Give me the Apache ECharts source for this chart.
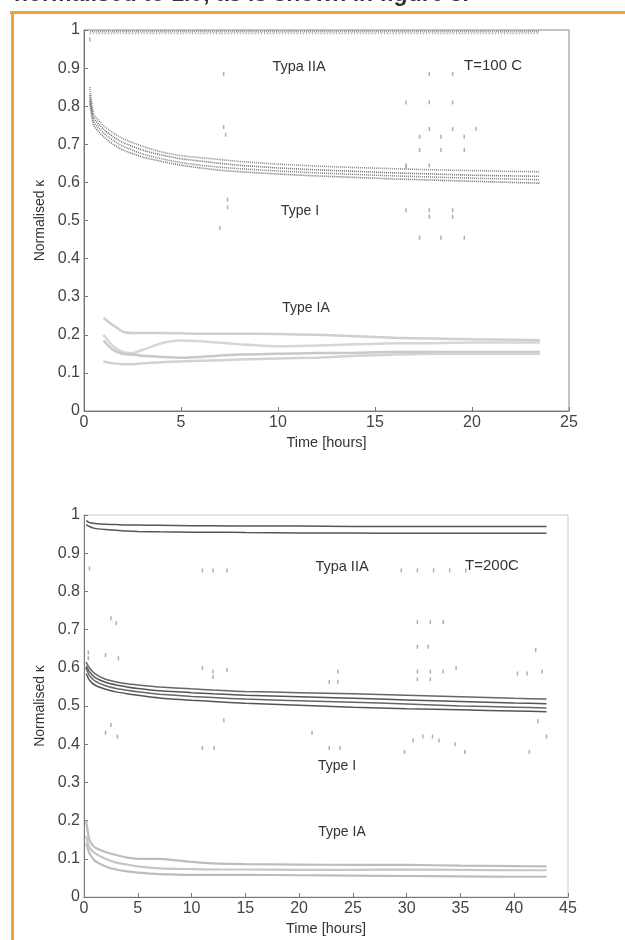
<!DOCTYPE html>
<html>
<head>
<meta charset="utf-8">
<script src="https://cdn.jsdelivr.net/npm/echarts@6/dist/echarts.min.js"></script>
<style>
html,body{margin:0;padding:0;background:#fff;}
#c{width:625px;height:940px;}
</style>
</head>
<body>
<div id="c"></div>
<script>
// ---------- Top panel: T = 100 C ----------
const tTop = [0.3, 0.5, 1, 1.5, 2, 3, 4, 5, 6, 7, 8, 10, 12, 14, 16, 18, 20, 22, 23.5];
const topIIA_1 = [0.996, 0.996, 0.996, 0.996, 0.996, 0.996, 0.996, 0.996, 0.996, 0.996, 0.996, 0.996, 0.996, 0.996, 0.996, 0.996, 0.996, 0.996, 0.996];
const topIIA_2 = [0.99, 0.991, 0.991, 0.991, 0.991, 0.991, 0.991, 0.991, 0.991, 0.991, 0.991, 0.991, 0.991, 0.991, 0.991, 0.991, 0.991, 0.991, 0.991];
const topI_1 = [0.85, 0.78, 0.75, 0.73, 0.715, 0.695, 0.68, 0.67, 0.665, 0.66, 0.655, 0.648, 0.643, 0.639, 0.636, 0.633, 0.631, 0.629, 0.628];
const topI_2 = [0.83, 0.77, 0.74, 0.72, 0.705, 0.685, 0.672, 0.662, 0.656, 0.65, 0.645, 0.638, 0.633, 0.629, 0.625, 0.622, 0.619, 0.617, 0.616];
const topI_3 = [0.82, 0.76, 0.73, 0.71, 0.695, 0.675, 0.662, 0.652, 0.645, 0.64, 0.636, 0.63, 0.625, 0.621, 0.617, 0.614, 0.611, 0.609, 0.607];
const topI_4 = [0.81, 0.75, 0.72, 0.70, 0.685, 0.667, 0.655, 0.645, 0.638, 0.632, 0.628, 0.622, 0.617, 0.613, 0.609, 0.606, 0.603, 0.6, 0.598];
const tTopIA = [1, 1.5, 2, 2.5, 3, 4, 5, 6, 8, 10, 12, 14, 16, 18, 20, 22, 23.5];
const topIA_1 = [0.245, 0.225, 0.208, 0.205, 0.205, 0.205, 0.204, 0.203, 0.203, 0.202, 0.2, 0.196, 0.192, 0.19, 0.188, 0.187, 0.186];
const topIA_2 = [0.2, 0.17, 0.155, 0.152, 0.16, 0.178, 0.185, 0.183, 0.175, 0.17, 0.172, 0.175, 0.178, 0.178, 0.18, 0.18, 0.18];
const topIA_3 = [0.185, 0.16, 0.15, 0.148, 0.145, 0.142, 0.14, 0.142, 0.148, 0.15, 0.152, 0.153, 0.155, 0.155, 0.155, 0.155, 0.155];
const topIA_4 = [0.13, 0.125, 0.123, 0.123, 0.125, 0.128, 0.13, 0.132, 0.135, 0.138, 0.14, 0.145, 0.148, 0.15, 0.15, 0.15, 0.15];
const topOutT = [0.3, 7.2, 7.2, 7.3, 7.4, 7.4, 7.0, 16.6, 17.8, 19.0, 16.6, 17.8, 19.0, 17.8, 19.0, 20.2, 17.3, 18.4, 19.6, 17.3, 18.4, 19.6, 16.6, 17.8, 16.6, 17.8, 19.0, 17.8, 19.0, 17.3, 18.4, 19.6];
const topOutV = [0.975, 0.885, 0.745, 0.725, 0.555, 0.535, 0.48, 0.64, 0.885, 0.885, 0.81, 0.81, 0.81, 0.74, 0.74, 0.74, 0.72, 0.72, 0.72, 0.685, 0.685, 0.685, 0.645, 0.645, 0.527, 0.527, 0.527, 0.51, 0.51, 0.455, 0.455, 0.455];

// ---------- Bottom panel: T = 200C ----------
const tBot = [0.2, 0.5, 1, 2, 3, 4, 5, 7, 10, 12, 15, 20, 25, 30, 35, 40, 43];
const botIIA_1 = [0.985, 0.98, 0.978, 0.976, 0.975, 0.974, 0.974, 0.973, 0.972, 0.972, 0.971, 0.971, 0.97, 0.97, 0.97, 0.97, 0.97];
const botIIA_2 = [0.975, 0.97, 0.965, 0.962, 0.96, 0.958, 0.957, 0.956, 0.955, 0.955, 0.954, 0.953, 0.953, 0.952, 0.952, 0.952, 0.952];
const botI_1 = [0.615, 0.6, 0.585, 0.57, 0.563, 0.558, 0.555, 0.55, 0.545, 0.542, 0.538, 0.535, 0.532, 0.528, 0.524, 0.52, 0.518];
const botI_2 = [0.605, 0.59, 0.575, 0.562, 0.555, 0.55, 0.546, 0.54, 0.535, 0.532, 0.528, 0.524, 0.52, 0.516, 0.512, 0.508, 0.506];
const botI_3 = [0.598, 0.58, 0.566, 0.553, 0.546, 0.541, 0.537, 0.531, 0.525, 0.522, 0.518, 0.514, 0.51, 0.505, 0.5, 0.497, 0.495];
const botI_4 = [0.585, 0.568, 0.555, 0.544, 0.537, 0.532, 0.528, 0.521, 0.515, 0.512, 0.507, 0.502, 0.497, 0.493, 0.49, 0.487, 0.485];
const botIA_1 = [0.2, 0.15, 0.13, 0.118, 0.11, 0.103, 0.1, 0.1, 0.092, 0.088, 0.086, 0.085, 0.084, 0.084, 0.082, 0.081, 0.08];
const botIA_2 = [0.16, 0.13, 0.115, 0.1, 0.09, 0.085, 0.08, 0.075, 0.073, 0.072, 0.072, 0.071, 0.071, 0.072, 0.071, 0.07, 0.07];
const botIA_3 = [0.14, 0.115, 0.095, 0.08, 0.072, 0.067, 0.064, 0.06, 0.058, 0.058, 0.058, 0.057, 0.056, 0.055, 0.054, 0.053, 0.053];
const botOutT = [0.5, 2.5, 3.0, 0.4, 0.4, 2.0, 3.2, 11, 12, 13.3, 11, 12, 13.3, 12, 2.5, 2.0, 3.1, 11, 12.1, 13, 21.2, 22.8, 23.8, 29.8, 30.6, 31.5, 32.4, 33.0, 34.5, 35.4, 41.4, 43, 42.2, 23.6, 23.6, 22.8, 31, 31, 32.2, 32.2, 33.4, 34.6, 40.3, 41.2, 42.6, 31, 32.2, 33.4, 31, 32, 29.5, 31, 32.5, 34, 35.5, 42];
const botOutV = [0.86, 0.73, 0.717, 0.64, 0.625, 0.633, 0.625, 0.855, 0.855, 0.855, 0.6, 0.59, 0.594, 0.576, 0.45, 0.43, 0.42, 0.39, 0.39, 0.463, 0.43, 0.39, 0.39, 0.38, 0.41, 0.42, 0.42, 0.41, 0.4, 0.38, 0.38, 0.42, 0.46, 0.59, 0.563, 0.563, 0.59, 0.57, 0.59, 0.57, 0.59, 0.6, 0.585, 0.585, 0.59, 0.72, 0.72, 0.72, 0.655, 0.655, 0.855, 0.855, 0.855, 0.855, 0.855, 0.647];

// tick values
const yTicks = [0, 0.1, 0.2, 0.3, 0.4, 0.5, 0.6, 0.7, 0.8, 0.9, 1];

const zip = (t, v) => t.map((x, i) => [x, v[i]]);
const FONT = '"Liberation Sans", Arial, sans-serif';

function axisPair(gi, xmax, xint) {
  return {
    x: {
      type: 'value', gridIndex: gi, min: 0, max: xmax, interval: xint,
      name: 'Time [hours]', nameLocation: 'middle', nameGap: 24,
      nameTextStyle: { fontFamily: FONT, fontSize: 14.5, color: '#333' },
      axisLine: { show: true, onZero: false, lineStyle: { color: '#777', width: 1 } },
      axisTick: { show: true, inside: true, length: 4, lineStyle: { color: '#777' } },
      axisLabel: { fontFamily: FONT, fontSize: 16, color: '#444', margin: 4 },
      splitLine: { show: false }
    },
    y: {
      type: 'value', gridIndex: gi, min: 0, max: 1, interval: 0.1,
      name: 'Normalised \u03ba', nameLocation: 'middle', nameGap: 34,
      nameTextStyle: { fontFamily: FONT, fontSize: 14, color: '#333' },
      axisLine: { show: true, onZero: false, lineStyle: { color: '#777', width: 1 } },
      axisTick: { show: true, inside: true, length: 4, lineStyle: { color: '#777' } },
      axisLabel: { fontFamily: FONT, fontSize: 16, color: '#444', margin: 4,
        formatter: v => (yTicks.indexOf(Math.round(v * 10) / 10) >= 0 ? String(Math.round(v * 10) / 10) : '') },
      splitLine: { show: false }
    }
  };
}
const a0 = axisPair(0, 25, 5);
const a1 = axisPair(1, 45, 5);

function line(gi, t, v, color, width, type) {
  return {
    type: 'line', xAxisIndex: gi, yAxisIndex: gi, data: zip(t, v),
    smooth: 0.2, showSymbol: false, symbol: 'none', silent: true,
    lineStyle: { color: color, width: width, type: type || 'solid' }
  };
}
function dots(gi, t, v) {
  return {
    type: 'scatter', xAxisIndex: gi, yAxisIndex: gi, data: zip(t, v),
    symbol: 'rect', symbolSize: [1.5, 4], silent: true,
    itemStyle: { color: '#9a9a9a' }
  };
}

const txt = (x, y, s, size) => ({ type: 'text', x: x, y: y, silent: true,
  style: { text: s, fontFamily: FONT, fontSize: size, fill: '#333', align: 'center', verticalAlign: 'middle' } });

const option = {
  backgroundColor: '#ffffff',
  animation: false,
  grid: [
    { left: 84, right: 56, top: 30, height: 381, show: true, borderColor: '#888', borderWidth: 1, backgroundColor: 'transparent' },
    { left: 84, right: 57, top: 515, height: 382, show: true, borderColor: '#c8c8c8', borderWidth: 1, backgroundColor: 'transparent' }
  ],
  xAxis: [a0.x, a1.x],
  yAxis: [a0.y, a1.y],
  series: [
    line(0, tTop, topIIA_1, '#8a8a8a', 2, [1, 1]),
    line(0, tTop, topIIA_2, '#9a9a9a', 1.5, [1, 2]),
    line(0, tTop, topI_1, '#888', 1.6, [1, 1]),
    line(0, tTop, topI_2, '#707070', 1.6, [1, 1]),
    line(0, tTop, topI_3, '#808080', 1.6, [1, 1]),
    line(0, tTop, topI_4, '#707070', 1.6, [1, 1]),
    line(0, tTopIA, topIA_1, '#cfcfcf', 2.5),
    line(0, tTopIA, topIA_2, '#d6d6d6', 2.5),
    line(0, tTopIA, topIA_3, '#c8c8c8', 2.5),
    line(0, tTopIA, topIA_4, '#d2d2d2', 2.5),
    dots(0, topOutT, topOutV),
    line(1, tBot, botIIA_1, '#555', 1.5),
    line(1, tBot, botIIA_2, '#555', 1.5),
    line(1, tBot, botI_1, '#666', 1.5),
    line(1, tBot, botI_2, '#555', 1.5),
    line(1, tBot, botI_3, '#666', 1.5),
    line(1, tBot, botI_4, '#555', 1.5),
    line(1, tBot, botIA_1, '#bdbdbd', 2.2),
    line(1, tBot, botIA_2, '#c6c6c6', 2.2),
    line(1, tBot, botIA_3, '#bdbdbd', 2.2),
    dots(1, botOutT, botOutV)
  ],
  graphic: [
    { type: 'rect', shape: { x: 10, y: 11, width: 615, height: 3 }, style: { fill: '#f0a23c' }, silent: true },
    { type: 'rect', shape: { x: 11, y: 11, width: 3, height: 929 }, style: { fill: '#f0a23c' }, silent: true },
    { type: 'text', left: 14, top: -17, silent: true, style: { text: 'normalised to 1.0, as is shown in figure 5.', fontFamily: FONT, fontSize: 23, fontWeight: 'bold', fill: '#333' } },
    txt(299, 67, 'Typa IIA', 14.5),
    txt(493, 66, 'T=100 C', 15),
    txt(300, 211, 'Type I', 14),
    txt(306, 308, 'Type IA', 14),
    txt(342, 567, 'Typa IIA', 14.5),
    txt(492, 566, 'T=200C', 15),
    txt(337, 766, 'Type I', 14),
    txt(342, 832, 'Type IA', 14)
  ]
};

const chart = echarts.init(document.getElementById('c'), null, { renderer: 'canvas' });
chart.setOption(option);
</script>
</body>
</html>
